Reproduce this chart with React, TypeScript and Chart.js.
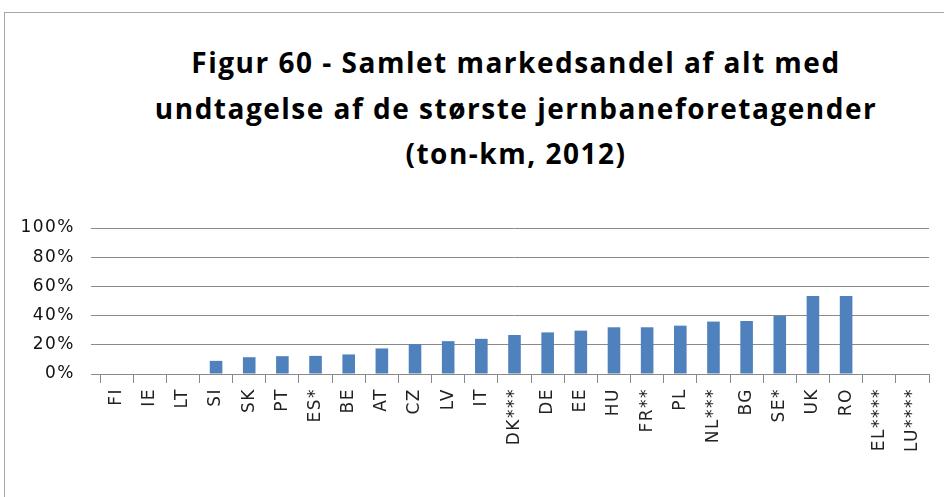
import React, { useEffect, useRef } from "react";
import { Chart, registerables } from "chart.js";

Chart.register(...registerables);

const categories = ["FI", "IE", "LT", "SI", "SK", "PT", "ES*", "BE", "AT", "CZ", "LV", "IT", "DK***", "DE", "EE", "HU", "FR**", "PL", "NL***", "BG", "SE*", "UK", "RO", "EL****", "LU****"];
const shares = [0, 0, 0, 9, 11.5, 12.2, 12.4, 13.4, 17.5, 20.5, 22.5, 24.1, 26.7, 28.5, 29.7, 32, 32, 33.1, 35.9, 36.3, 39.8, 53.4, 53.4, 0, 0];
const titleLines = [
  "Figur 60 - Samlet markedsandel af alt med",
  "undtagelse af de største jernbaneforetagender",
  "(ton-km, 2012)",
];
const yTicks = [0, 20, 40, 60, 80, 100];

const spacingPlugin = {
  id: "labelSpacing",
  beforeDraw(chart: any) {
    chart.ctx.letterSpacing = "1.5px";
  },
  afterDraw(chart: any) {
    chart.ctx.letterSpacing = "0px";
  },
};

export default function App() {
  const ref = useRef<HTMLCanvasElement | null>(null);
  useEffect(() => {
    if (!ref.current) return;
    const chart = new Chart(ref.current, {
      type: "bar",
      data: {
        labels: categories,
        datasets: [
          {
            data: shares,
            backgroundColor: "#4f81bd",
            borderWidth: 0,
            barPercentage: 0.38,
            categoryPercentage: 1,
          },
        ],
      },
      plugins: [spacingPlugin],
      options: {
        responsive: false,
        animation: false,
        devicePixelRatio: 1,
        layout: { padding: { left: 0, right: 103, top: 228, bottom: 0 } },
        plugins: {
          legend: { display: false },
          tooltip: { enabled: false },
          title: { display: false },
        },
        scales: {
          x: {
            afterFit: (s: any) => {
              s.height = 123;
            },
            grid: {
              display: true,
              drawOnChartArea: false,
              drawTicks: true,
              tickLength: 9,
              color: "#8a8a8a",
              offset: true,
            },
            border: { display: true, color: "#8a8a8a", width: 1 },
            ticks: {
              autoSkip: false,
              maxRotation: 90,
              minRotation: 90,
              padding: 5,
              color: "#222",
              font: { family: "DejaVu Sans", size: 17 },
            },
          },
          y: {
            min: 0,
            max: 100,
            afterFit: (s: any) => {
              s.width = 100;
            },
            afterBuildTicks: (s: any) => {
              s.ticks = yTicks.map((v) => ({ value: v }));
            },
            grid: {
              color: "#8a8a8a",
              tickLength: 9,
              drawTicks: true,
            },
            border: { display: false },
            ticks: {
              padding: 16,
              color: "#111",
              font: { family: "DejaVu Sans", size: 17 },
              callback: (v: any) => v + "%",
            },
          },
        },
      },
    });
    return () => chart.destroy();
  }, []);

  return (
    <div
      style={{
        position: "fixed",
        left: 0,
        top: 0,
        width: 944,
        height: 497,
        overflow: "hidden",
        background: "#fff",
      }}
    >
      <div
        style={{
          position: "absolute",
          left: 4,
          top: 12,
          width: 1024,
          height: 600,
          border: "1.5px solid #a8a8a8",
          boxSizing: "border-box",
        }}
      />
      <div
        style={{
          position: "absolute",
          left: 0,
          top: 40,
          width: 1032,
          textAlign: "center",
          fontFamily: "'Open Sans'",
          fontWeight: 700,
          fontSize: 28,
          lineHeight: "45.5px",
          letterSpacing: "1.5px",
          color: "#000",
        }}
      >
        {titleLines.map((l, i) => (
          <div key={i}>{l}</div>
        ))}
      </div>
      <canvas
        ref={ref}
        width={1032}
        height={497}
        style={{ position: "absolute", left: 0, top: 0, width: 1032, height: 497 }}
      />
    </div>
  );
}
